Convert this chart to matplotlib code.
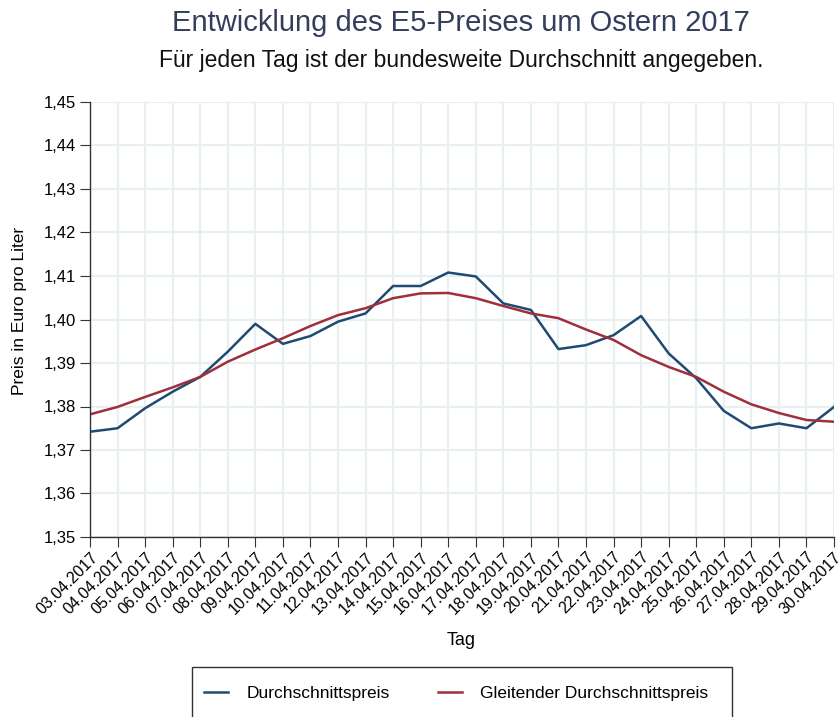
import matplotlib
matplotlib.use("Agg")
import matplotlib.pyplot as plt
from matplotlib.ticker import FuncFormatter
from matplotlib.patches import Rectangle

plt.rcParams['font.family'] = ['Liberation Sans', 'DejaVu Sans']

days = ["03.04.2017", "04.04.2017", "05.04.2017", "06.04.2017", "07.04.2017", "08.04.2017",
        "09.04.2017", "10.04.2017", "11.04.2017", "12.04.2017", "13.04.2017", "14.04.2017",
        "15.04.2017", "16.04.2017", "17.04.2017", "18.04.2017", "19.04.2017", "20.04.2017",
        "21.04.2017", "22.04.2017", "23.04.2017", "24.04.2017", "25.04.2017", "26.04.2017",
        "27.04.2017", "28.04.2017", "29.04.2017", "30.04.2017"]
avg_price = [1.3742, 1.3750, 1.3796, 1.3834, 1.3868, 1.3926, 1.3990, 1.3944, 1.3962, 1.3995,
             1.4014, 1.4077, 1.4077, 1.4108, 1.4099, 1.4037, 1.4022, 1.3932, 1.3941, 1.3964,
             1.4008, 1.3922, 1.3865, 1.3790, 1.3750, 1.3761, 1.3750, 1.3799]
moving_avg = [1.3782, 1.3799, 1.3822, 1.3844, 1.3868, 1.3903, 1.3931, 1.3957, 1.3985, 1.4010,
              1.4026, 1.4049, 1.4060, 1.4061, 1.4049, 1.4031, 1.4014, 1.4003, 1.3977, 1.3953,
              1.3918, 1.3891, 1.3868, 1.3834, 1.3805, 1.3785, 1.3769, 1.3765]
y_ticks = [1.35, 1.36, 1.37, 1.38, 1.39, 1.40, 1.41, 1.42, 1.43, 1.44, 1.45]

W, H = 839, 717
fig = plt.figure(figsize=(W / 100, H / 100), dpi=100)
ax = fig.add_axes([90 / W, 1 - 537 / H, (834 - 90) / W, (537 - 102) / H])

x = list(range(len(days)))
blue = "#1f4a72"
red = "#9e2f3b"
ax.plot(x, avg_price, color=blue, lw=1.8, label="Durchschnittspreis")
ax.plot(x, moving_avg, color=red, lw=1.8, label="Gleitender Durchschnittspreis")

ax.set_xlim(0, len(days) - 1)
ax.set_ylim(1.35, 1.45)
ax.set_yticks(y_ticks)
ax.yaxis.set_major_formatter(FuncFormatter(lambda v, p: f"{v:.2f}".replace(".", ",")))
ax.set_xticks(x)
ax.set_xticklabels(days, rotation=45, ha="right", rotation_mode="anchor", fontsize=11.5)
ax.tick_params(axis="y", labelsize=12, length=7, color="#333333", pad=3)
ax.tick_params(axis="x", length=7, color="#333333", pad=2)

ax.grid(True, color="#e8f0f2", lw=1.6)
ax.set_axisbelow(True)
for s in ["top", "right"]:
    ax.spines[s].set_visible(False)
for s in ["left", "bottom"]:
    ax.spines[s].set_color("#333333")
    ax.spines[s].set_linewidth(1.0)

ax.set_xlabel("Tag", fontsize=13)
ax.xaxis.set_label_coords((461 - 90) / (834 - 90), -(632 - 537) / (537 - 102))
ax.set_ylabel("Preis in Euro pro Liter", fontsize=12.5)
ax.yaxis.set_label_coords(-(90 - 27) / (834 - 90), (537 - 311) / (537 - 102))

fig.text(461 / W, 1 - 23 / H, "Entwicklung des E5-Preises um Ostern 2017", ha="center", va="center",
         fontsize=21, color="#333d5c")
fig.text(461 / W, 1 - 60 / H, "Für jeden Tag ist der bundesweite Durchschnitt angegeben.", ha="center",
         va="center", fontsize=16.5, color="#111111")

# legend box (extends past the bottom edge as in the reference)
fig.patches.append(Rectangle((192 / W, -0.05), (732 - 192) / W, (1 - 667 / H) + 0.05,
                             transform=fig.transFigure, facecolor="white", edgecolor="#333333",
                             lw=1.0, zorder=1))
leg = fig.legend(loc="center left", bbox_to_anchor=(204 / W, 1 - 693 / H), ncol=2, frameon=False,
                 fontsize=12.5, borderpad=0, borderaxespad=0, handlelength=1.38,
                 handletextpad=1.05, columnspacing=2.8)
leg.set_zorder(2)

fig.savefig("out.png", dpi=100)
